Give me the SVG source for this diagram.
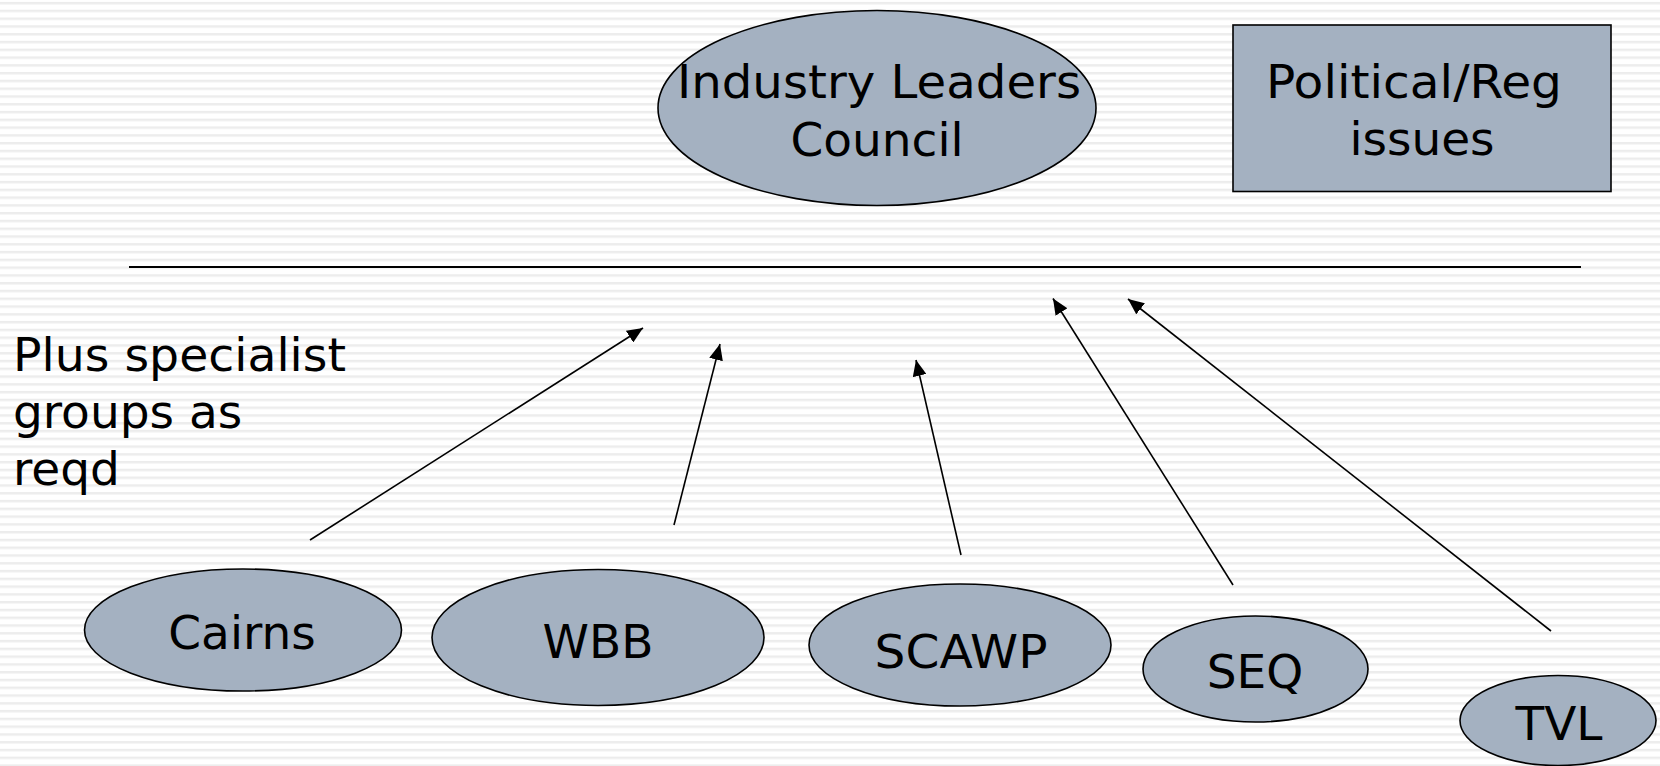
<svg xmlns="http://www.w3.org/2000/svg" width="1660" height="766" viewBox="0 0 1660 766">
  <style>
    .node { fill: #a4b1c1; stroke: #000; stroke-width: 1.6; }
    .label { font-family: "DejaVu Sans", Verdana, sans-serif; font-size: 47px; fill: #000; text-anchor: middle; }
    .free { font-family: "DejaVu Sans", Verdana, sans-serif; font-size: 47px; fill: #000; }
    .conn { stroke: #000; stroke-width: 1.6; fill: none; marker-end: url(#arrow); }
  </style>
  <defs>
    <pattern id="stripes" patternUnits="userSpaceOnUse" x="0" y="0" width="20" height="7.78">
      <rect x="0" y="2.4" width="20" height="1" fill="#dcdcdc"/>
      <rect x="0" y="3.4" width="20" height="1" fill="#ececec"/>
    </pattern>
    <marker id="arrow" markerUnits="userSpaceOnUse" markerWidth="18" markerHeight="14" refX="16" refY="7" orient="auto">
      <path d="M0,0 L16,7 L0,14 Z" fill="#000"/>
    </marker>
  </defs>
  <rect x="0" y="0" width="1660" height="766" fill="#ffffff"/>
  <rect x="0" y="0" width="1660" height="766" fill="url(#stripes)"/>

  <g id="connectors">
    <line x1="129" y1="267" x2="1581" y2="267" stroke="#000" stroke-width="2"/>
    <line class="conn" x1="310" y1="540" x2="643" y2="328"/>
    <line class="conn" x1="674" y1="525" x2="720" y2="344"/>
    <line class="conn" x1="961" y1="555" x2="916" y2="360"/>
    <line class="conn" x1="1233" y1="585" x2="1053" y2="298.5"/>
    <line class="conn" x1="1551" y1="631" x2="1128" y2="299"/>
  </g>

  <g id="ilc">
    <ellipse class="node" cx="877" cy="108" rx="219" ry="97.5"/>
    <text class="label" x="879" y="98" textLength="404" lengthAdjust="spacingAndGlyphs">Industry Leaders</text>
    <text class="label" x="877" y="156">Council</text>
  </g>

  <g id="political">
    <rect class="node" x="1233" y="25" width="378" height="166.5"/>
    <text class="label" x="1414" y="98" textLength="296" lengthAdjust="spacingAndGlyphs">Political/Reg</text>
    <text class="label" x="1422" y="155">issues</text>
  </g>

  <g id="note">
    <text class="free" x="13" y="370.5" textLength="333" lengthAdjust="spacingAndGlyphs">Plus specialist</text>
    <text class="free" x="13" y="427.5">groups as</text>
    <text class="free" x="13" y="484.5">reqd</text>
  </g>

  <g id="cairns">
    <ellipse class="node" cx="243" cy="630" rx="158.5" ry="61"/>
    <text class="label" x="242" y="649">Cairns</text>
  </g>

  <g id="wbb">
    <ellipse class="node" cx="598" cy="637.5" rx="166" ry="68"/>
    <text class="label" x="598" y="658">WBB</text>
  </g>

  <g id="scawp">
    <ellipse class="node" cx="960" cy="645" rx="151" ry="61"/>
    <text class="label" x="961" y="667.5" textLength="173" lengthAdjust="spacingAndGlyphs">SCAWP</text>
  </g>

  <g id="seq">
    <ellipse class="node" cx="1255.5" cy="669" rx="112.5" ry="53"/>
    <text class="label" x="1255" y="688">SEQ</text>
  </g>

  <g id="tvl">
    <ellipse class="node" cx="1558" cy="720.5" rx="98" ry="45"/>
    <text class="label" x="1559" y="739.5">TVL</text>
  </g>
</svg>
